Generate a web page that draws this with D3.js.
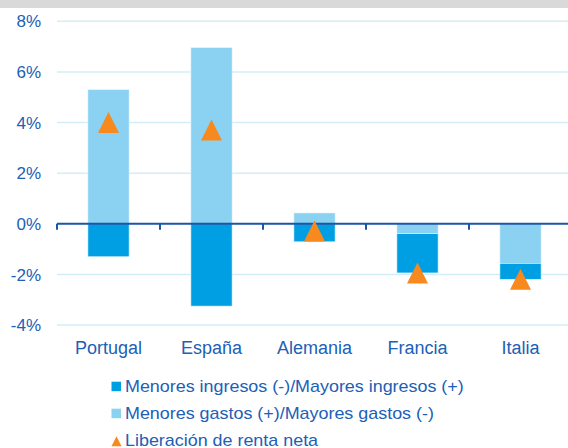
<!DOCTYPE html>
<html>
<head>
<meta charset="utf-8">
<script src="https://cdn.jsdelivr.net/npm/d3@7"></script>
<style>
  body { margin: 0; background: #fff; }
  svg { display: block; font-family: "Liberation Sans", Arial, sans-serif; }
</style>
</head>
<body>
<div class="container"></div>
<script>
const countries = ["Portugal", "España", "Alemania", "Francia", "Italia"];
const ingresos = [-1.30, -3.25, -0.71, -1.55, -0.63];
const gastos = [5.30, 6.96, 0.43, -0.39, -1.56];
const renta = [4.00, 3.71, -0.28, -1.94, -2.19];
const yTicks = [8, 6, 4, 2, 0, -2, -4];
const legendLabels = [
    "Menores ingresos (-)/Mayores ingresos (+)",
    "Menores gastos (+)/Mayores gastos (-)",
    "Liberación de renta neta"
];

const width = 568;
const height = 448;
const textColor = "#2060b6";
const darkBlue = "#009fe3";
const lightBlue = "#8ad1f2";
const orange = "#f7891e";

const svg = d3.select('.container').append('svg').attr('width', width).attr('height', height);

// grey strip along the top edge
svg.append('rect').attr('x', 0).attr('y', 0).attr('width', width).attr('height', 8).attr('fill', '#d9d9d9');

const x = d3.scaleBand().domain(countries).range([57, 572]).paddingInner(0.6).paddingOuter(0.3);
const y = d3.scaleLinear().domain([-4, 8]).range([325.1, 21.3]);

// gridlines
svg.append('g').selectAll('line').data(yTicks.filter(d => d !== 0)).enter().append('line')
    .attr('x1', 57).attr('x2', width)
    .attr('y1', d => y(d)).attr('y2', d => y(d))
    .attr('stroke', '#d3eef9').attr('stroke-width', 1.5);

// y labels
svg.append('g').selectAll('text').data(yTicks).enter().append('text')
    .attr('x', 41).attr('y', d => y(d)).attr('dy', '0.36em')
    .attr('text-anchor', 'end').attr('font-size', 17).attr('fill', textColor)
    .text(d => d + "%");

// stacked bars: gastos nearest to zero, then ingresos
const rows = countries.map((c, i) => ({ country: c, gastos: gastos[i], ingresos: ingresos[i] }));
const stack = d3.stack().keys(["gastos", "ingresos"]).offset(d3.stackOffsetDiverging);
const series = stack(rows);
const colors = { gastos: lightBlue, ingresos: darkBlue };

svg.append('g').selectAll('g').data(series).enter().append('g')
    .attr('fill', d => colors[d.key])
    .selectAll('rect').data(d => d).enter().append('rect')
    .attr('x', d => x(d.data.country))
    .attr('width', x.bandwidth())
    .attr('y', d => y(Math.max(d[0], d[1])))
    .attr('height', d => Math.abs(y(d[0]) - y(d[1])))
    .attr('stroke', '#e6f5fc').attr('stroke-width', 0.6);

// zero axis with ticks between categories
const axis = svg.append('g');
axis.append('line').attr('x1', 57).attr('x2', width).attr('y1', y(0)).attr('y2', y(0))
    .attr('stroke', '#1a55a8').attr('stroke-width', 2);
axis.selectAll('line.tick').data(countries).enter().append('line').attr('class', 'tick')
    .attr('x1', d => x(d) - x.step() * x.paddingInner() / 2)
    .attr('x2', d => x(d) - x.step() * x.paddingInner() / 2)
    .attr('y1', y(0)).attr('y2', y(0) + 6)
    .attr('stroke', '#1a55a8').attr('stroke-width', 2);

// triangles for net value
const tri = (w, h) => `M0,${-h / 2}L${w / 2},${h / 2}L${-w / 2},${h / 2}Z`;
svg.append('g').selectAll('path').data(renta).enter().append('path')
    .attr('d', tri(21, 21))
    .attr('transform', (d, i) => `translate(${x(countries[i]) + x.bandwidth() / 2},${y(d)})`)
    .attr('fill', orange);

// category labels
svg.append('g').selectAll('text').data(countries).enter().append('text')
    .attr('x', d => x(d) + x.bandwidth() / 2).attr('y', 354)
    .attr('text-anchor', 'middle').attr('font-size', 18).attr('fill', textColor)
    .text(d => d);

// legend (text is a little stretched horizontally in the original)
const legend = svg.append('g').selectAll('g').data(legendLabels).enter().append('g')
    .attr('transform', (d, i) => `translate(111,${392.2 + i * 27})`);
legend.each(function (d, i) {
    const g = d3.select(this);
    if (i < 2) {
        g.append('rect').attr('x', 0.5).attr('y', -10.5).attr('width', 9.5).attr('height', 9.5)
            .attr('fill', i === 0 ? darkBlue : lightBlue);
    } else {
        g.append('path').attr('d', tri(10, 10)).attr('transform', 'translate(5.5,-5)').attr('fill', orange);
    }
    g.append('text').attr('transform', 'translate(14,0) scale(1.12,1)')
        .attr('font-size', 16).attr('fill', textColor).text(d);
});
</script>
</body>
</html>
